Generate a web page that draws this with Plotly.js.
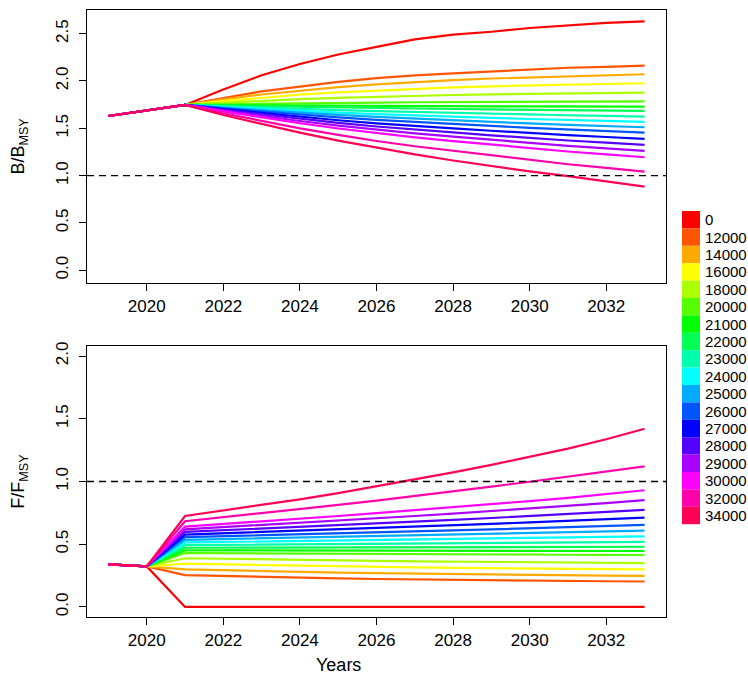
<!DOCTYPE html>
<html>
<head>
<meta charset="utf-8">
<script src="https://cdn.plot.ly/plotly-3.0.1.min.js"></script>
<style>html,body{margin:0;padding:0;background:#fff;}#chart{width:748px;height:675px;}</style>
</head>
<body>
<div id="chart"></div>
<script>
// ---- DATA ----
const years = [2019,2020,2021,2022,2023,2024,2025,2026,2027,2028,2029,2030,2031,2032,2033];
const catchLabels = ["0","12000","14000","16000","18000","20000","21000","22000","23000","24000","25000","26000","27000","28000","29000","30000","32000","34000"];
const lineColors = ["#FF0000","#FF5500","#FFAA00","#FFFF00","#AAFF00","#55FF00","#00FF00","#00FF55","#00FFAA","#00FFFF","#00AAFF","#0055FF","#0000FF","#5500FF","#AA00FF","#FF00FF","#FF00AA","#FF0055"];

// B/BMSY per catch scenario
const B_0     = [1.63,1.69,1.747,1.91,2.06,2.18,2.28,2.36,2.44,2.49,2.52,2.56,2.59,2.615,2.63];
const B_12000 = [1.63,1.69,1.747,1.82,1.89,1.94,1.99,2.03,2.06,2.08,2.10,2.12,2.14,2.15,2.163];
const B_14000 = [1.63,1.69,1.747,1.805,1.857,1.899,1.935,1.964,1.990,2.009,2.026,2.039,2.052,2.061,2.071];
const B_16000 = [1.63,1.69,1.747,1.788,1.825,1.855,1.880,1.900,1.919,1.932,1.944,1.953,1.962,1.969,1.976];
const B_18000 = [1.63,1.69,1.747,1.770,1.791,1.808,1.822,1.834,1.845,1.852,1.859,1.864,1.869,1.873,1.877];
const B_20000 = [1.63,1.69,1.747,1.754,1.760,1.765,1.769,1.772,1.775,1.778,1.780,1.781,1.783,1.784,1.785];
const B_21000 = [1.63,1.69,1.747,1.745,1.742,1.740,1.738,1.736,1.735,1.733,1.732,1.731,1.730,1.730,1.729];
const B_22000 = [1.63,1.69,1.747,1.739,1.732,1.725,1.719,1.713,1.708,1.704,1.699,1.695,1.691,1.687,1.684];
const B_23000 = [1.63,1.69,1.747,1.732,1.717,1.704,1.692,1.681,1.671,1.662,1.654,1.645,1.638,1.631,1.624];
const B_24000 = [1.63,1.69,1.747,1.725,1.704,1.684,1.666,1.650,1.635,1.623,1.610,1.598,1.587,1.577,1.567];
const B_25000 = [1.63,1.69,1.747,1.718,1.690,1.664,1.641,1.620,1.601,1.584,1.568,1.551,1.537,1.524,1.511];
const B_26000 = [1.63,1.69,1.747,1.711,1.677,1.645,1.616,1.589,1.566,1.546,1.525,1.505,1.487,1.471,1.455];
const B_27000 = [1.63,1.69,1.747,1.702,1.661,1.621,1.585,1.553,1.524,1.499,1.474,1.449,1.427,1.408,1.388];
const B_28000 = [1.63,1.69,1.747,1.694,1.646,1.599,1.557,1.519,1.485,1.456,1.426,1.397,1.371,1.348,1.325];
const B_29000 = [1.63,1.69,1.747,1.686,1.630,1.577,1.528,1.485,1.446,1.412,1.378,1.344,1.314,1.288,1.261];
const B_30000 = [1.63,1.69,1.747,1.678,1.614,1.553,1.498,1.448,1.404,1.365,1.327,1.288,1.255,1.224,1.194];
const B_32000 = [1.63,1.69,1.747,1.659,1.578,1.500,1.430,1.366,1.310,1.261,1.211,1.162,1.120,1.081,1.042];
const B_34000 = [1.63,1.69,1.747,1.640,1.545,1.455,1.370,1.295,1.225,1.160,1.100,1.045,0.995,0.940,0.884];

// F/FMSY per catch scenario
const F_0     = [0.34,0.323,0,0,0,0,0,0,0,0,0,0,0,0,0];
const F_12000 = [0.34,0.323,0.254,0.246,0.239,0.233,0.228,0.223,0.219,0.215,0.212,0.209,0.207,0.205,0.203];
const F_14000 = [0.34,0.323,0.300,0.292,0.285,0.279,0.274,0.269,0.265,0.261,0.258,0.255,0.252,0.250,0.248];
const F_16000 = [0.34,0.323,0.345,0.339,0.333,0.328,0.323,0.319,0.315,0.312,0.309,0.306,0.303,0.301,0.299];
const F_18000 = [0.34,0.323,0.388,0.383,0.379,0.375,0.371,0.368,0.364,0.361,0.359,0.356,0.354,0.352,0.350];
const F_20000 = [0.34,0.323,0.430,0.428,0.426,0.425,0.423,0.422,0.420,0.419,0.418,0.417,0.416,0.415,0.414];
const F_21000 = [0.34,0.323,0.451,0.451,0.450,0.450,0.449,0.449,0.448,0.448,0.447,0.447,0.447,0.446,0.446];
const F_22000 = [0.34,0.323,0.472,0.473,0.474,0.474,0.475,0.476,0.476,0.477,0.478,0.478,0.479,0.479,0.480];
const F_23000 = [0.34,0.323,0.493,0.495,0.497,0.499,0.501,0.503,0.505,0.507,0.509,0.511,0.513,0.516,0.518];
const F_24000 = [0.34,0.323,0.514,0.518,0.522,0.526,0.530,0.534,0.538,0.542,0.546,0.550,0.554,0.558,0.563];
const F_25000 = [0.34,0.323,0.535,0.541,0.546,0.552,0.558,0.564,0.570,0.576,0.582,0.588,0.595,0.601,0.608];
const F_26000 = [0.34,0.323,0.556,0.563,0.571,0.578,0.586,0.594,0.602,0.610,0.618,0.627,0.636,0.645,0.654];
const F_27000 = [0.34,0.323,0.577,0.587,0.597,0.607,0.617,0.628,0.639,0.650,0.662,0.674,0.686,0.699,0.712];
const F_28000 = [0.34,0.323,0.598,0.611,0.624,0.637,0.651,0.665,0.679,0.694,0.709,0.724,0.740,0.757,0.774];
const F_29000 = [0.34,0.323,0.619,0.636,0.653,0.670,0.688,0.706,0.725,0.744,0.764,0.784,0.805,0.827,0.851];
const F_30000 = [0.34,0.323,0.640,0.660,0.681,0.703,0.725,0.748,0.771,0.795,0.819,0.844,0.870,0.899,0.930];
const F_32000 = [0.34,0.323,0.683,0.714,0.746,0.779,0.813,0.848,0.884,0.921,0.959,0.998,1.038,1.079,1.120];
const F_34000 = [0.34,0.323,0.725,0.768,0.812,0.858,0.907,0.960,1.015,1.072,1.132,1.195,1.262,1.337,1.420];

const bSeries = [B_0,B_12000,B_14000,B_16000,B_18000,B_20000,B_21000,B_22000,B_23000,B_24000,B_25000,B_26000,B_27000,B_28000,B_29000,B_30000,B_32000,B_34000];
const fSeries = [F_0,F_12000,F_14000,F_16000,F_18000,F_20000,F_21000,F_22000,F_23000,F_24000,F_25000,F_26000,F_27000,F_28000,F_29000,F_30000,F_32000,F_34000];

const bTicks = [0,0.5,1,1.5,2,2.5];
const fTicks = [0,0.5,1,1.5,2];
const xTicks = [2020,2022,2024,2026,2028,2030,2032];

// ---- BUILD ----
const FONT = "Liberation Sans, Arial, Helvetica, sans-serif";
const traces = [];
bSeries.forEach((s,i)=>traces.push({x:years,y:s,type:'scatter',mode:'lines',xaxis:'x',yaxis:'y',
  line:{color:lineColors[i],width:2.2},showlegend:false,hoverinfo:'skip'}));
fSeries.forEach((s,i)=>traces.push({x:years,y:s,type:'scatter',mode:'lines',xaxis:'x2',yaxis:'y2',
  line:{color:lineColors[i],width:2.2},showlegend:false,hoverinfo:'skip'}));

const axBase = {showline:true,mirror:true,linecolor:'#000',linewidth:1.3,showgrid:false,zeroline:false,
  ticks:'outside',ticklen:7,tickcolor:'#000',tickwidth:1,tickfont:{family:FONT,size:17,color:'#000'}};
const xRange=[2018.44,2033.56];

const shapes = [
  {type:'line',xref:'x domain',x0:0,x1:1,yref:'y',y0:1,y1:1,line:{color:'#000',width:1.3,dash:'7px,5px'}},
  {type:'line',xref:'x2 domain',x0:0,x1:1,yref:'y2',y0:1,y1:1,line:{color:'#000',width:1.3,dash:'7px,5px'}}
];
const annotations = [
  {text:'B/B<sub>MSY</sub>',xref:'paper',yref:'paper',x:-0.1157,y:0.775,textangle:-90,showarrow:false,
   xanchor:'center',yanchor:'middle',font:{family:FONT,size:18,color:'#000'}},
  {text:'F/F<sub>MSY</sub>',xref:'paper',yref:'paper',x:-0.1157,y:0.223,textangle:-90,showarrow:false,
   xanchor:'center',yanchor:'middle',font:{family:FONT,size:18,color:'#000'}},
  {text:'Years',xref:'paper',yref:'paper',x:0.435,y:-0.079,showarrow:false,
   xanchor:'center',yanchor:'middle',font:{family:FONT,size:18,color:'#000'}}
];
// legend (colour boxes + labels), placed in paper units
const plotL=87, plotW=579, plotB=617, plotH=607;
const px2x = p => (p-plotL)/plotW;
const py2y = p => (plotB-p)/plotH;
const legStep = 17.4;
catchLabels.forEach((lab,i)=>{
  const top = 211 + legStep*i;
  shapes.push({type:'rect',xref:'paper',yref:'paper',x0:px2x(682),x1:px2x(700),y0:py2y(top+legStep),y1:py2y(top),
    line:{width:0},fillcolor:lineColors[i]});
  annotations.push({text:lab,xref:'paper',yref:'paper',x:px2x(703),y:py2y(top+legStep/2),showarrow:false,
    xanchor:'left',yanchor:'middle',font:{family:FONT,size:15,color:'#000'}});
});

const layout = {
  width:748,height:675,paper_bgcolor:'#fff',plot_bgcolor:'#fff',
  margin:{l:87,r:82,t:10,b:58,pad:0},
  showlegend:false,
  xaxis:Object.assign({},axBase,{domain:[0,1],anchor:'y',range:xRange,tickvals:xTicks}),
  yaxis:Object.assign({},axBase,{domain:[0.5502,1],anchor:'x',range:[-0.135,2.75],tickvals:bTicks,tickformat:'.1f',tickangle:-90,ticklabelstandoff:4}),
  xaxis2:Object.assign({},axBase,{domain:[0,1],anchor:'y2',range:xRange,tickvals:xTicks}),
  yaxis2:Object.assign({},axBase,{domain:[0,0.4465],anchor:'x2',range:[-0.08,2.08],tickvals:fTicks,tickformat:'.1f',tickangle:-90,ticklabelstandoff:4}),
  shapes:shapes,annotations:annotations
};
Plotly.newPlot('chart',traces,layout,{staticPlot:true,displayModeBar:false});
</script>
</body>
</html>
